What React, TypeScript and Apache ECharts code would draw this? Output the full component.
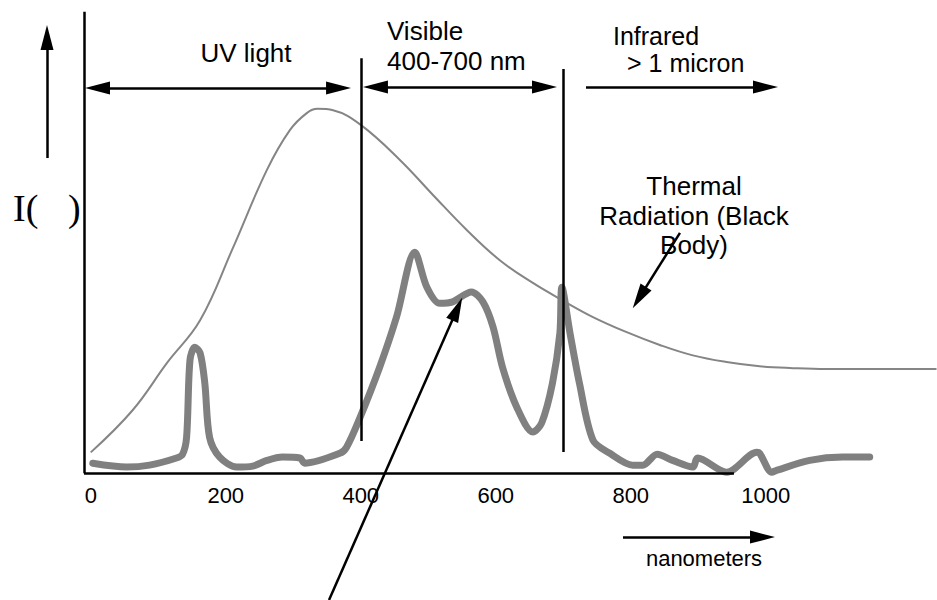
import React, { useEffect, useRef } from "react";
import * as echarts from "echarts";

// Thermal (black body) radiation curve, wavelength in nm vs relative intensity
const thermalNm = [0, 62, 113, 162, 210, 261, 295, 320, 336, 359, 400, 458, 507, 557, 606, 655, 698, 744, 794, 843, 892, 942, 991, 1040, 1090, 1253];
const thermalI = [4.4, 13.3, 23.3, 32.3, 47.4, 64.1, 72.5, 76.1, 77.0, 76.7, 73.6, 66.2, 58.8, 51.4, 45.0, 40.2, 36.6, 33.0, 29.8, 27.1, 24.9, 23.5, 22.6, 22.2, 22.0, 22.0];

// Line (emission) spectrum, wavelength in nm vs relative intensity
const spectrumNm = [3, 53, 87, 127, 136, 142, 147, 154, 162, 169, 176, 191, 216, 240, 261, 284, 310, 317, 369, 379, 399, 428, 453, 480, 498, 517, 536, 564, 581, 596, 610, 631, 655, 668, 684, 695, 698, 710, 724, 744, 769, 803, 818, 839, 862, 892, 899, 942, 987, 991, 1009, 1016, 1065, 1114, 1154];
const spectrumI = [2.1, 1.3, 1.7, 3.2, 4.0, 7.6, 23.9, 26.6, 25.4, 19.0, 7.6, 3.4, 1.3, 1.5, 2.7, 3.4, 3.2, 2.1, 4.2, 5.5, 11.8, 22.4, 33.0, 46.7, 39.3, 35.9, 36.2, 38.3, 36.2, 30.9, 22.4, 14.0, 8.7, 10.6, 19.0, 29.6, 39.3, 29.6, 19.0, 7.0, 4.2, 1.7, 1.7, 4.0, 2.7, 1.3, 3.2, 0.2, 4.4, 4.2, 0.2, 0.6, 2.7, 3.4, 3.4];

// Axis tick labels (nm)
const tickValues = [0, 200, 400, 600, 800, 1000];
// Visible band limits (nm)
const visibleBand = [400, 700];

export default function App() {
  const ref = useRef<HTMLDivElement>(null);

  useEffect(() => {
    if (!ref.current) return;
    const chart = echarts.init(ref.current, null, { renderer: "svg" });
    const sans = "'Liberation Sans', Arial, Helvetica, sans-serif";
    const serif = "'Liberation Serif', 'Times New Roman', serif";
    const head: [number, number] = [13, 25];

    const seg = (a: number[], b: number[], s0 = "none", s1 = "none") => [
      { coord: a, symbol: s0, symbolSize: head },
      { coord: b, symbol: s1, symbolSize: head },
    ];

    const toPairs = (xs: number[], ys: number[]) => xs.map((x, i) => [x, ys[i]]);

    const txt = (text: string, x: number, y: number, align = "left", size = 26, family = sans) => ({
      type: "text",
      x,
      y,
      silent: true,
      style: {
        text,
        fill: "#000",
        font: `${size}px ${family}`,
        align,
        verticalAlign: "middle",
        textAlign: align,
        textVerticalAlign: "middle",
      },
    });

    const option: any = {
      animation: false,
      backgroundColor: "#fff",
      grid: { left: 9.75, right: 0, top: 0, bottom: 0, containLabel: false },
      xAxis: {
        type: "value",
        min: -120,
        max: 1253.7,
        position: "bottom",
        axisLine: { show: false, onZero: false },
        axisTick: { show: false },
        splitLine: { show: false },
        axisLabel: {
          customValues: tickValues,
          formatter: (v: number) => String(v),
          margin: -116,
          color: "#000",
          fontSize: 22,
          fontFamily: sans,
          showMinLabel: true,
          showMaxLabel: true,
        },
      },
      yAxis: {
        type: "value",
        min: -26.8,
        max: 100,
        show: false,
        axisLine: { show: false, onZero: false },
        splitLine: { show: false },
      },
      series: [
        {
          type: "line",
          name: "frame",
          data: [],
          z: 1,
          silent: true,
          markLine: {
            silent: true,
            animation: false,
            symbol: ["none", "none"],
            label: { show: false },
            emphasis: { disabled: true },
            lineStyle: { color: "#000", width: 2.5, type: "solid" },
            data: [
              // axes
              seg([-10, 0], [-10, 97.5]),
              seg([-10, 0], [952.9, 0]),
              // visible band limits
              seg([visibleBand[0], 6.8], [visibleBand[0], 87.7]),
              seg([visibleBand[1], 4.5], [visibleBand[1], 85.4]),
              // region arrows
              seg([10.0, 81.4], [367.1, 81.4], "triangle", "triangle"),
              seg([421.8, 81.6], [672.2, 81.6], "triangle", "triangle"),
              seg([733.7, 81.6], [999.6, 81.6], "none", "triangle"),
              // intensity arrow
              seg([-64.8, 66.6], [-64.8, 92.1], "none", "triangle"),
              // wavelength arrow
              seg([788.5, -13.5], [995.2, -13.5], "none", "triangle"),
              // pointer to thermal curve
              seg([872.9, 50.8], [812.8, 37.1], "none", "triangle"),
              // pointer to emission spectrum
              seg([353.0, -26.8], [542.9, 34.7], "none", "triangle"),
            ],
          },
        },
        {
          type: "line",
          name: "Thermal radiation",
          data: toPairs(thermalNm, thermalI),
          smooth: 0.4,
          showSymbol: false,
          symbol: "none",
          z: 2,
          lineStyle: { color: "#858585", width: 2 },
        },
        {
          type: "line",
          name: "Spectrum",
          data: toPairs(spectrumNm, spectrumI),
          smooth: 0.3,
          showSymbol: false,
          symbol: "none",
          z: 3,
          lineStyle: { color: "#808080", width: 7, join: "round", cap: "round" },
        },
      ],
      graphic: [
        txt("UV light", 246, 53, "center"),
        txt("Visible", 387, 31),
        txt("400-700 nm", 387, 61),
        txt("Infrared", 613, 36, "left", 25),
        txt("> 1 micron", 627, 63, "left", 25),
        txt("Thermal", 694, 186, "center"),
        txt("Radiation (Black", 694, 215.5, "center"),
        txt("Body)", 694, 245, "center"),
        txt("nanometers", 704, 558, "center", 22),
        txt("I(", 13, 208, "left", 38, serif),
        txt(")", 68, 208, "left", 38, serif),
      ],
    };

    chart.setOption(option);
    return () => chart.dispose();
  }, []);

  return (
    <div
      ref={ref}
      style={{ position: "fixed", left: 0, top: 0, width: 937, height: 600, background: "#fff" }}
    />
  );
}
